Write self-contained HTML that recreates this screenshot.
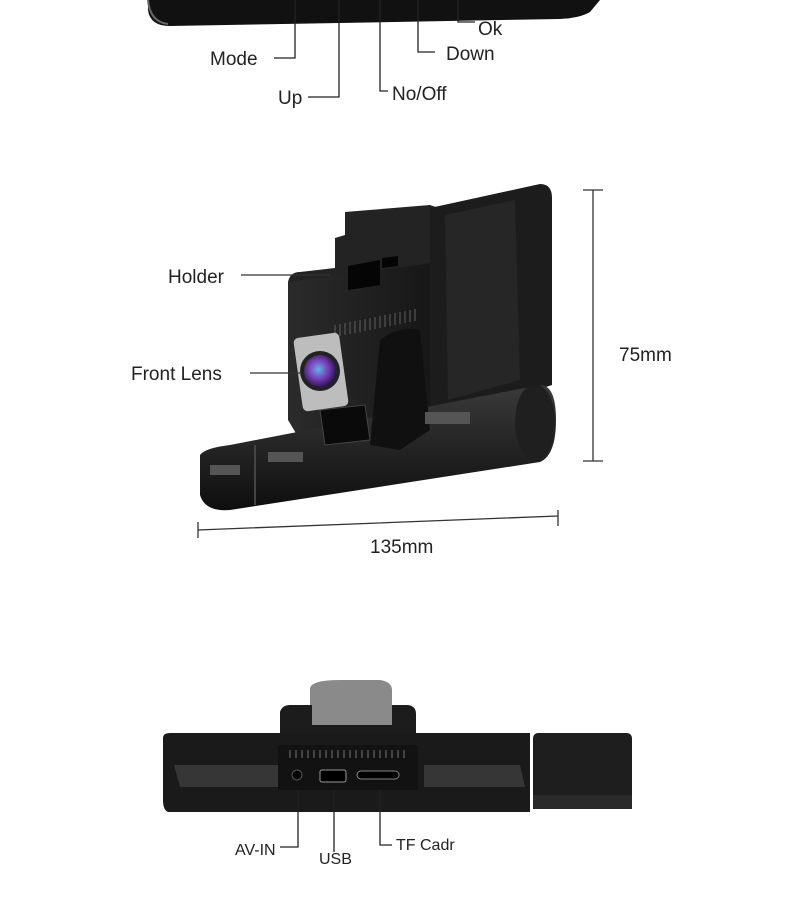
<!DOCTYPE html>
<html><head><meta charset="utf-8"><style>
html,body{margin:0;padding:0;background:#fff;}
svg{display:block}
text{font-family:"Liberation Sans",sans-serif;fill:#222;font-size:19px}
</style></head><body>
<svg width="790" height="903" viewBox="0 0 790 903">
<defs>
<linearGradient id="g1" x1="0" y1="0" x2="0" y2="1"><stop offset="0" stop-color="#3a3a3a"/><stop offset="1" stop-color="#0e0e0e"/></linearGradient>
<linearGradient id="g2" x1="0" y1="0" x2="1" y2="0"><stop offset="0" stop-color="#2b2b2b"/><stop offset="1" stop-color="#151515"/></linearGradient>
<radialGradient id="lens" cx="0.45" cy="0.45" r="0.6"><stop offset="0" stop-color="#5fb3e8"/><stop offset="0.5" stop-color="#7a3fb8"/><stop offset="1" stop-color="#1c1040"/></radialGradient>
</defs>
<!-- top device -->
<path d="M148 0 L600 0 L590 12 Q580 18 560 19 L170 26 Q150 26 148 10 Z" fill="#111"/>
<path d="M148 0 Q150 22 168 24" stroke="#666" stroke-width="2" fill="none"/>
<g stroke="#222" stroke-width="1.3" fill="none">
<path d="M274 58 H295 V0"/><path d="M308 97 H339 V0"/><path d="M380 0 V91 H388"/><path d="M418 0 V52 H435"/><path d="M458 0 V22 H475"/>
</g>
<text x="210" y="65">Mode</text><text x="278" y="104">Up</text><text x="392" y="100">No/Off</text><text x="446" y="60">Down</text><text x="478" y="35">Ok</text>

<!-- middle device -->
<path d="M335 268 L335 238 L345 235 L345 212 L430 205 L450 212 L452 290 L440 305 L300 320 L288 300 L288 282 Q290 272 300 272 Z" fill="#232323"/>
<path d="M288 282 L440 262 L445 400 L420 430 L300 440 L288 420 Z" fill="url(#g2)"/>
<path d="M430 208 L540 184 Q552 184 552 198 L552 385 L430 425 Z" fill="#1c1c1c"/>
<path d="M445 215 L515 200 L520 380 L448 400 Z" fill="#262626"/>
<path d="M348 266 L380 260 L380 285 L348 290 Z M382 258 L398 256 L398 266 L382 268 Z" fill="#050505"/>
<g stroke="#555" stroke-width="1.2">
<path d="M335 325 v12 M340 324 v12 M345 323 v12 M350 322 v12 M355 321 v12 M360 320 v12 M365 319 v12 M370 318 v12 M375 317 v12 M380 316 v12 M385 315 v12 M390 314 v12 M395 313 v12 M400 312 v12 M405 311 v12 M410 310 v12 M415 309 v12"/>
</g>
<path d="M200 455 Q205 448 230 445 L540 385 Q556 385 556 420 Q556 455 540 462 L230 510 Q205 512 200 495 Z" fill="url(#g1)"/>
<ellipse cx="535" cy="422" rx="20" ry="38" fill="#1f1f1f"/>
<path d="M255 445 L255 505" stroke="#444" stroke-width="2"/>
<path d="M380 340 Q400 325 420 330 L430 430 L400 450 L370 445 Z" fill="#101010"/>
<path d="M320 410 L365 405 L370 440 L325 445 Z" fill="#0a0a0a" stroke="#444"/>
<rect x="298" y="335" width="46" height="74" rx="5" fill="#bdbdbd" transform="rotate(-8 321 372)"/>
<circle cx="320" cy="371" r="20" fill="#222"/><circle cx="320" cy="371" r="16" fill="url(#lens)"/>
<g fill="#555"><rect x="210" y="465" width="30" height="10"/><rect x="268" y="452" width="35" height="10"/><rect x="425" y="412" width="45" height="12"/></g>
<!-- dims -->
<g stroke="#333" stroke-width="1.3" fill="none">
<path d="M593 190 V461 M583 190 H603 M583 461 H603"/>
<path d="M198 530 L558 516 M198 522 V538 M558 510 V526"/>
<path d="M241 275 H330 M250 373 H300"/>
</g>
<text x="619" y="361">75mm</text><text x="370" y="553">135mm</text>
<text x="168" y="283">Holder</text><text x="131" y="380">Front Lens</text>

<!-- bottom device -->
<path d="M310 688 Q312 680 340 680 L380 680 Q392 682 392 690 L392 725 L310 725 Z" fill="#8a8a8a"/>
<path d="M280 712 Q282 705 290 705 L312 705 L312 725 L392 725 L392 705 L408 705 Q416 706 416 714 L416 745 L280 745 Z" fill="#1c1c1c"/>
<path d="M163 738 Q163 733 170 733 L530 733 L530 812 L168 812 Q163 810 163 800 Z" fill="#1a1a1a"/>
<path d="M174 765 L278 765 L278 787 L180 787 Z M424 765 L520 765 L525 787 L424 787 Z" fill="#363636"/>
<path d="M278 745 L418 745 L418 790 L278 790 Z" fill="#121212"/>
<g stroke="#666" stroke-width="1.2"><path d="M290 750 v8 M296 750 v8 M302 750 v8 M308 750 v8 M314 750 v8 M320 750 v8 M326 750 v8 M332 750 v8 M338 750 v8 M344 750 v8 M350 750 v8 M356 750 v8 M362 750 v8 M368 750 v8 M374 750 v8 M380 750 v8 M386 750 v8 M392 750 v8 M398 750 v8 M404 750 v8"/></g>
<circle cx="297" cy="775" r="5" fill="#000" stroke="#555"/>
<rect x="320" y="770" width="26" height="12" rx="2" fill="#000" stroke="#999"/>
<rect x="357" y="771" width="42" height="8" rx="4" fill="#000" stroke="#888"/>
<rect x="533" y="733" width="99" height="76" rx="5" fill="#1e1e1e"/>
<rect x="533" y="795" width="99" height="14" fill="#2a2a2a"/>
<g stroke="#222" stroke-width="1.3" fill="none">
<path d="M280 847 H298 V790"/><path d="M334 790 V852"/><path d="M380 790 V845 H392"/>
</g>
<text x="235" y="855" style="font-size:16px">AV-IN</text>
<text x="319" y="864" style="font-size:16px">USB</text>
<text x="396" y="850" style="font-size:16px">TF Cadr</text>
</svg>
</body></html>
